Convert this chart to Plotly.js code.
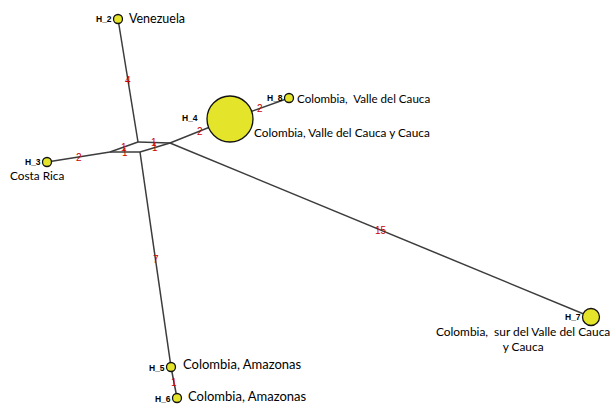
<!DOCTYPE html>
<html><head><meta charset="utf-8">
<script src="https://cdn.plot.ly/plotly-3.0.1.min.js"></script>
<style>html,body{margin:0;padding:0;background:#fff}#chart{width:611px;height:406px}</style>
</head><body><div id="chart"></div>
<script>
// Haplotype nodes (network layout coordinates) and sizes (relative frequency)
const nodeIds    = ["H_2","H_3","H_4","H_8","H_7","H_5","H_6","mA","mB","mC","mD"];
const nodeX      = [118, 47, 230, 289, 591, 171, 177, 110, 138, 140, 170];
const nodeY      = [19, 162, 119, 98, 317, 367, 398, 152, 142, 152, 143];
const nodeFreq   = [1, 1, 25, 1, 2, 1, 1, 0, 0, 0, 0];
const nodeLabels = ["Venezuela","Costa Rica","Colombia, Valle del Cauca y Cauca","Colombia,  Valle del Cauca",
                    "Colombia,  sur del Valle del Cauca<br>y Cauca","Colombia, Amazonas","Colombia, Amazonas","","","",""];
// Edges and number of mutations
const edgeFrom = ["mB","mA","mA","mA","mB","mC","mD","mD","H_4","mC","H_5"];
const edgeTo   = ["H_2","H_3","mB","mC","mD","mD","H_4","H_7","H_8","H_5","H_6"];
const edgeMut  = [4, 2, 1, 1, 1, 1, 2, 15, 2, 7, 1];

const idx = id => nodeIds.indexOf(id);
const traces = [];
const ann = [];
const edgeX = [], edgeY = [];
edgeFrom.forEach((f,i)=>{
  const a = idx(f), b = idx(edgeTo[i]);
  edgeX.push(nodeX[a], nodeX[b], null);
  edgeY.push(nodeY[a], nodeY[b], null);
  ann.push({x:(nodeX[a]+nodeX[b])/2, y:(nodeY[a]+nodeY[b])/2, xref:'x', yref:'y', showarrow:false,
    text:String(edgeMut[i]), font:{family:'Liberation Sans, Arial', size:10, color:'#cc0000'}, borderpad:0});
});
traces.push({x:edgeX, y:edgeY, mode:'lines', type:'scatter', connectgaps:false,
  line:{color:'#3c3c3c', width:1.5}, hoverinfo:'skip', showlegend:false});
// node diameter by frequency
const hapIdx = nodeIds.map((_,i)=>i).filter(i=>nodeFreq[i]>0);
const diam = i => nodeFreq[i]===1 ? 9 : (nodeFreq[i]===2 ? 17 : 46);
traces.push({x:hapIdx.map(i=>nodeX[i]), y:hapIdx.map(i=>nodeY[i]), mode:'markers', type:'scatter',
  marker:{size:hapIdx.map(diam), color:'#e4e42a', opacity:1, line:{color:'#111', width:1.3}},
  text:hapIdx.map(i=>nodeIds[i]), hoverinfo:'text', showlegend:false, cliponaxis:false});

// label placement (layout only): [dx, dy, anchor, fontsize]
const hapLabPos = {"H_2":[-1,0,'right'],"H_3":[-1,0,'right'],"H_4":[-8,-1,'right'],"H_8":[-1,0,'right'],
                   "H_7":[-1,0,'right'],"H_5":[-1,1,'right'],"H_6":[-1,1,'right']};
const locPos = {"H_2":[10,-1,'left',12.5],"H_3":[-10,13,'center',11.8],"H_4":[23,13,'left',11.8],"H_8":[7,0,'left',11.6],
                "H_7":[-68,22,'center',11.9],"H_5":[11,-3,'left',13],"H_6":[10,-2,'left',13]};
hapIdx.forEach(i=>{
  const id = nodeIds[i], r = diam(i)/2;
  const hp = hapLabPos[id];
  ann.push({x:nodeX[i]-r+hp[0], y:nodeY[i]+hp[1], xref:'x', yref:'y', showarrow:false, xanchor:hp[2],
    text:'<b>'+id+'</b>', font:{family:'Liberation Sans, Arial', size:8.5, color:'#000'}, borderpad:0});
  const lp = locPos[id];
  ann.push({x:nodeX[i]+lp[0], y:nodeY[i]+lp[1], xref:'x', yref:'y', showarrow:false, xanchor:lp[2], align:'center',
    text:nodeLabels[i], font:{family:'Lato, Open Sans, sans-serif', size:lp[3], color:'#000'}, borderpad:0});
});

const layout = {
  width:611, height:406, margin:{l:0,r:0,t:0,b:0},
  paper_bgcolor:'#fff', plot_bgcolor:'#fff',
  xaxis:{range:[0,611], visible:false, fixedrange:true},
  yaxis:{range:[406,0], visible:false, fixedrange:true},
  annotations:ann, showlegend:false
};
Plotly.newPlot('chart', traces, layout, {displayModeBar:false, staticPlot:true});
</script></body></html>
